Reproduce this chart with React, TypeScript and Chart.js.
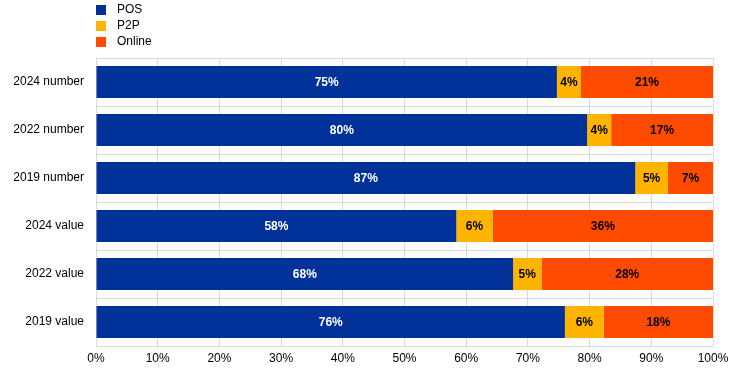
import React, { useEffect, useRef } from "react";
import { Chart, registerables } from "chart.js";

Chart.register(...registerables);

const categories = ["2024 number", "2022 number", "2019 number", "2024 value", "2022 value", "2019 value"];
const posValues = [74.7, 79.6, 87.4, 58.4, 67.6, 76.0];
const p2pValues = [3.9, 3.9, 5.3, 5.9, 4.6, 6.3];
const onlineValues = [21.4, 16.5, 7.3, 35.7, 27.8, 17.7];
const seriesNames = ["POS", "P2P", "Online"];
const seriesColors = ["#003299", "#FFB400", "#FF4B00"];
const labelColors = ["#ffffff", "#000000", "#000000"];
const xTicks = [0, 10, 20, 30, 40, 50, 60, 70, 80, 90, 100];

const FONT = "Arial, 'Liberation Sans', sans-serif";

const labelPlugin = {
  id: "segLabels",
  afterDatasetsDraw(chart: any) {
    const ctx = chart.ctx;
    ctx.save();
    ctx.font = `bold 12px ${FONT}`;
    ctx.textAlign = "center";
    ctx.textBaseline = "middle";
    chart.data.datasets.forEach((ds: any, di: number) => {
      const meta = chart.getDatasetMeta(di);
      meta.data.forEach((bar: any, i: number) => {
        const v = ds.data[i];
        const cx = (bar.x + bar.base) / 2;
        ctx.fillStyle = labelColors[di];
        ctx.fillText(Math.round(v) + "%", cx, bar.y + 1);
      });
    });
    ctx.restore();
  },
};

const legendPlugin = {
  id: "customLegend",
  afterDraw(chart: any) {
    const ctx = chart.ctx;
    ctx.save();
    ctx.font = `12px ${FONT}`;
    ctx.textBaseline = "middle";
    ctx.textAlign = "left";
    seriesNames.forEach((name, i) => {
      const y = 10 + i * 16;
      ctx.fillStyle = seriesColors[i];
      ctx.fillRect(96, y - 5, 10, 10);
      ctx.fillStyle = "#000000";
      ctx.fillText(name, 117, y);
    });
    ctx.restore();
  },
};

export default function App() {
  const ref = useRef<HTMLCanvasElement>(null);
  useEffect(() => {
    document.body.style.margin = "0";
    const values = [posValues, p2pValues, onlineValues];
    const chart = new Chart(ref.current!, {
      type: "bar",
      data: {
        labels: categories,
        datasets: seriesNames.map((n, i) => ({
          label: n,
          data: values[i],
          backgroundColor: seriesColors[i],
          borderWidth: 0,
          categoryPercentage: 0.667,
          barPercentage: 1,
        })),
      },
      options: {
        indexAxis: "y",
        responsive: false,
        animation: false,
        layout: { padding: { top: 58, right: 31, left: 0, bottom: 0 } },
        plugins: { legend: { display: false }, tooltip: { enabled: false } },
        scales: {
          x: {
            stacked: true,
            min: 0,
            max: 100,
            afterBuildTicks: (s: any) => {
              s.ticks = xTicks.map((v) => ({ value: v }));
            },
            afterFit: (s: any) => {
              s.height = 27;
            },
            grid: { color: "#d9d9d9", drawTicks: false, lineWidth: 1 },
            border: { color: "#d9d9d9" },
            ticks: {
              padding: 5,
              color: "#000000",
              font: { family: FONT, size: 12 },
              callback: (v: any) => v + "%",
            },
          },
          y: {
            stacked: true,
            afterFit: (s: any) => {
              s.width = 96;
            },
            grid: { color: "#d9d9d9", drawTicks: false },
            border: { color: "#d9d9d9" },
            ticks: {
              padding: 12,
              color: "#000000",
              font: { family: FONT, size: 12 },
            },
          },
        },
      },
      plugins: [labelPlugin, legendPlugin],
    });
    return () => chart.destroy();
  }, []);
  return (
    <div style={{ position: "absolute", left: 0, top: 0, width: 744, height: 373 }}>
      <canvas ref={ref} width={744} height={373} />
    </div>
  );
}
